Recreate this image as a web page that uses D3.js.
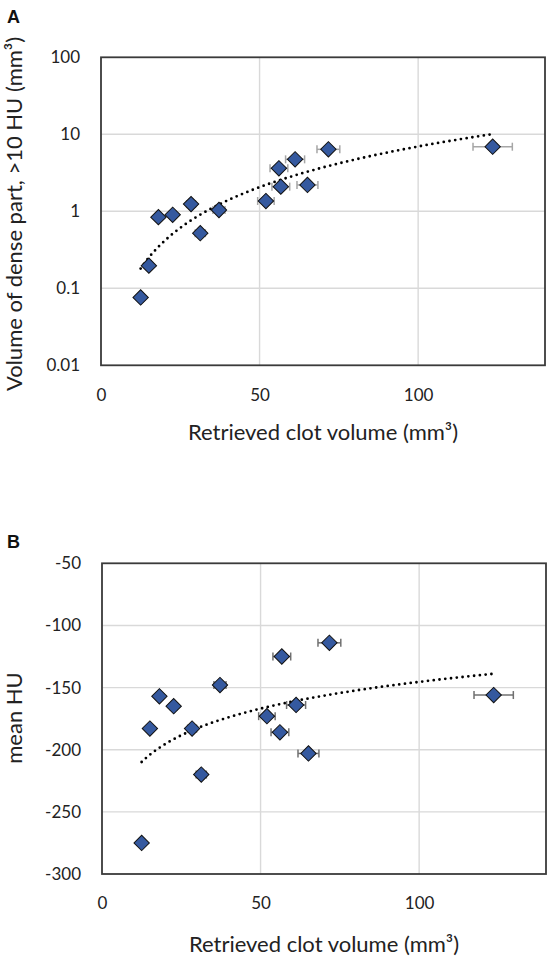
<!DOCTYPE html>
<html><head><meta charset="utf-8">
<script src="https://cdn.jsdelivr.net/npm/d3@7"></script>
<style>body{margin:0;background:#fff}svg{display:block}</style>
</head><body>
<svg id="c" width="551" height="958"></svg>
<script>
// ---- data ----
const clotVolume = [12.5, 15.1, 18.1, 22.6, 28.4, 31.3, 37.2, 52.0, 56.1, 56.7, 61.2, 65.1, 71.7, 123.5];
const clotVolumeErr = [0.6, 0.8, 0.9, 1.1, 1.4, 1.6, 1.9, 2.6, 2.8, 2.8, 3.0, 3.3, 3.6, 6.2];
const denseVolume = [0.076, 0.197, 0.84, 0.90, 1.24, 0.52, 1.04, 1.36, 3.62, 2.09, 4.73, 2.20, 6.38, 6.90];
const meanHU = [-275, -183, -157, -165, -183, -220, -148, -173, -186, -125, -164, -203, -114, -156];
const xTicks = [0, 50, 100];
const yTicksA = [0.01, 0.1, 1, 10, 100];
const yTickLabelsA = ["0.01", "0.1", "1", "10", "100"];
const yTicksB = [-300, -250, -200, -150, -100, -50];
const xTitle = "Retrieved clot volume (mm³)";
const yTitleA = "Volume of dense part, >10 HU (mm³)";
const yTitleB = "mean HU";

const svg = d3.select("#c");
const FONT = "Lato, 'Open Sans', sans-serif";

function panel(cfg) {
  const g = svg.append("g");
  const x = d3.scaleLinear().domain([0, 140]).range([cfg.left, cfg.right]);
  const y = cfg.y;
  // gridlines
  g.selectAll("line.hg").data(cfg.yTicks.slice(1, -1)).join("line")
    .attr("x1", cfg.left).attr("x2", cfg.right)
    .attr("y1", d => y(d)).attr("y2", d => y(d))
    .attr("stroke", "#d9d9d9").attr("stroke-width", 1.4);
  g.selectAll("line.vg").data(xTicks.slice(1)).join("line")
    .attr("y1", cfg.top).attr("y2", cfg.bottom)
    .attr("x1", d => x(d)).attr("x2", d => x(d))
    .attr("stroke", "#d9d9d9").attr("stroke-width", 1.4);
  // frame
  g.append("rect").attr("x", cfg.left).attr("y", cfg.top)
    .attr("width", cfg.right - cfg.left).attr("height", cfg.bottom - cfg.top)
    .attr("fill", "none").attr("stroke", "#3a3a3a").attr("stroke-width", 1.8);
  // axes
  const ax = g.append("g").attr("transform", `translate(0,${cfg.bottom})`)
    .call(d3.axisBottom(x).tickValues(xTicks).tickSize(0).tickPadding(cfg.xPad));
  const ay = g.append("g").attr("transform", `translate(${cfg.left},0)`)
    .call(d3.axisLeft(y).tickValues(cfg.yTicks).tickFormat(cfg.fmt).tickSize(0).tickPadding(21));
  [ax, ay].forEach(a => {
    a.select(".domain").remove();
    a.selectAll("text").attr("font-family", FONT).attr("font-size", 17).attr("fill", "#222");
  });
  // trend line (least squares, as the spreadsheet trendline)
  const lx = clotVolume.map(v => Math.log(v));
  const ly = cfg.vals.map(cfg.ty);
  const mx = d3.mean(lx), my = d3.mean(ly);
  const b = d3.sum(lx, (v, i) => (v - mx) * (ly[i] - my)) / d3.sum(lx, v => (v - mx) ** 2);
  const a = my - b * mx;
  const xmin = d3.min(clotVolume), xmax = d3.max(clotVolume);
  const pts = d3.range(0, 101).map(i => {
    const xv = xmin + (xmax - xmin) * i / 100;
    return [x(xv), y(cfg.inv(a + b * Math.log(xv)))];
  });
  g.append("path").attr("d", d3.line()(pts)).attr("fill", "none")
    .attr("stroke", "#000").attr("stroke-width", 2.8)
    .attr("stroke-linecap", "round").attr("stroke-dasharray", "0 5.8");
  // error bars
  const eb = g.append("g").attr("stroke", cfg.errColor).attr("stroke-width", 1.5);
  clotVolume.forEach((xv, i) => {
    const yy = y(cfg.vals[i]), e = clotVolumeErr[i];
    const x1 = x(xv - e), x2 = x(xv + e);
    eb.append("line").attr("x1", x1).attr("x2", x2).attr("y1", yy).attr("y2", yy);
    eb.append("line").attr("x1", x1).attr("x2", x1).attr("y1", yy - 4).attr("y2", yy + 4);
    eb.append("line").attr("x1", x2).attr("x2", x2).attr("y1", yy - 4).attr("y2", yy + 4);
  });
  // diamonds
  g.selectAll("path.pt").data(clotVolume).join("path")
    .attr("d", d3.symbol(d3.symbolSquare, 118)())
    .attr("transform", (d, i) => `translate(${x(d)},${y(cfg.vals[i])}) rotate(45)`)
    .attr("fill", "#35599f").attr("stroke", "#111").attr("stroke-width", 1);
  // titles
  g.append("text").attr("x", (cfg.left + cfg.right) / 2).attr("y", cfg.xTitleY)
    .attr("text-anchor", "middle").attr("font-family", FONT).attr("font-size", 22)
    .attr("fill", "#222").text(xTitle);
  g.append("text").attr("transform", `translate(22,${cfg.yTitleC}) rotate(-90)`)
    .attr("text-anchor", "middle").attr("font-family", FONT).attr("font-size", 22)
    .attr("fill", "#222").text(cfg.yTitle);
  svg.append("text").attr("x", 7).attr("y", cfg.letterY).attr("font-family", "'Liberation Sans', Arial, sans-serif")
    .attr("font-weight", "bold").attr("font-size", 18).attr("fill", "#111").text(cfg.letter);
}

panel({
  left: 101, right: 545, top: 57.3, bottom: 365.3,
  y: d3.scaleLog().domain([0.01, 100]).range([365.3, 57.3]),
  yTicks: yTicksA, fmt: (d, i) => yTickLabelsA[i],
  vals: denseVolume, ty: v => Math.log(v), inv: v => Math.exp(v),
  errColor: "#a6a6a6", xPad: 24, xTitleY: 439.5, yTitle: yTitleA, yTitleC: 214, letter: "A", letterY: 23
});
panel({
  left: 102, right: 546, top: 563.3, bottom: 874,
  y: d3.scaleLinear().domain([-300, -50]).range([874, 563.3]),
  yTicks: yTicksB, fmt: d => String(d),
  vals: meanHU, ty: v => v, inv: v => v,
  errColor: "#707070", xPad: 23, xTitleY: 952, yTitle: yTitleB, yTitleC: 718, letter: "B", letterY: 548
});
</script>
</body></html>
